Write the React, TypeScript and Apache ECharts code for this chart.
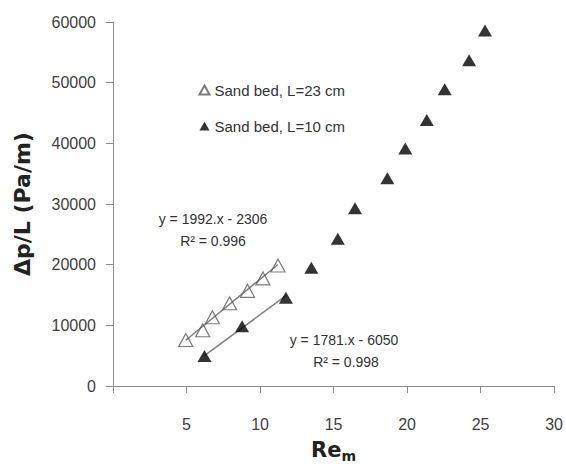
import React, { useEffect, useRef } from "react";
import * as echarts from "echarts";

const openName = "Sand bed, L=23 cm";
const filledName = "Sand bed, L=10 cm";

const openX = [4.95, 6.1, 6.76, 7.93, 9.15, 10.2, 11.22];
const openY = [7600, 9200, 11350, 13650, 15700, 17750, 19870];

const filledX = [6.22, 8.78, 11.76, 13.49, 15.29, 16.46, 18.66, 19.88, 21.34, 22.56, 24.22, 25.3];
const filledY = [4950, 9860, 14540, 19500, 24300, 29300, 34260, 39160, 43850, 48900, 53700, 58600];

// Trendline equations as printed on the chart
const openFit = { slope: 1992, intercept: -2306, r2: "0.996", xs: [4.95, 11.22] };
const filledFit = { slope: 1781, intercept: -6050, r2: "0.998", xs: [6.22, 11.76] };

const xTicks = [0, 5, 10, 15, 20, 25, 30];
const yTicks = [0, 10000, 20000, 30000, 40000, 50000, 60000];

const FONT = "'Liberation Sans', Arial, sans-serif";
const BOLD = "'DejaVu Sans', Verdana, sans-serif";

function fitLine(fit: { slope: number; intercept: number; xs: number[] }) {
  return fit.xs.map((x) => [x, fit.slope * x + fit.intercept]);
}
function eqText(fit: { slope: number; intercept: number }) {
  const sign = fit.intercept < 0 ? "-" : "+";
  return `y = ${fit.slope}.x ${sign} ${Math.abs(fit.intercept)}`;
}

export default function App() {
  const ref = useRef<HTMLDivElement>(null);
  useEffect(() => {
    if (!ref.current) return;
    const chart = echarts.init(ref.current, undefined, { renderer: "svg" });
    const textStyle = { fontFamily: FONT, fontSize: 14, fill: "#333" };
    chart.setOption({
      animation: false,
      backgroundColor: "#fff",
      grid: { left: 113, right: 9, top: 22, bottom: 74 },
      legend: {
        data: [openName, filledName],
        orient: "vertical",
        left: 193.5,
        top: 77.5,
        icon: "triangle",
        itemWidth: 10,
        itemHeight: 9,
        itemGap: 21,
        textStyle: { fontFamily: FONT, fontSize: 15, color: "#333" },
      },
      xAxis: {
        type: "value",
        min: xTicks[0],
        max: xTicks[xTicks.length - 1],
        interval: 5,
        name: "{b|Re}{s|m}",
        nameLocation: "middle",
        nameGap: 45,
        nameTextStyle: {
          rich: {
            b: { fontFamily: BOLD, fontWeight: "bold", fontSize: 21, color: "#222", lineHeight: 24 },
            s: { fontFamily: BOLD, fontWeight: "bold", fontSize: 14, color: "#222", lineHeight: 14, padding: [12, 0, 0, 0] },
          },
        },
        axisLine: { lineStyle: { color: "#8c8c8c", width: 1 } },
        axisTick: { show: true, inside: false, length: 7, lineStyle: { color: "#8c8c8c" } },
        axisLabel: {
          margin: 30,
          fontFamily: FONT,
          fontSize: 16,
          color: "#404040",
          formatter: (v: number) => (v === 0 ? "" : String(v)),
        },
        splitLine: { show: false },
      },
      yAxis: {
        type: "value",
        min: yTicks[0],
        max: yTicks[yTicks.length - 1],
        interval: 10000,
        name: "Δp/L (Pa/m)",
        nameLocation: "middle",
        nameGap: 80,
        nameRotate: 90,
        nameTextStyle: { fontFamily: BOLD, fontWeight: "bold", fontSize: 22, color: "#222" },
        axisLine: { show: true, lineStyle: { color: "#8c8c8c", width: 1 } },
        axisTick: { show: true, inside: false, length: 7, lineStyle: { color: "#8c8c8c" } },
        axisLabel: {
          margin: 17,
          fontFamily: FONT,
          fontSize: 16,
          color: "#404040",
          formatter: (v: number) => String(v),
        },
        splitLine: { show: false },
      },
      series: [
        {
          name: "fit23",
          type: "line",
          data: fitLine(openFit),
          symbol: "none",
          silent: true,
          z: 1,
          lineStyle: { color: "#7f7f7f", width: 1.5 },
        },
        {
          name: "fit10",
          type: "line",
          data: fitLine(filledFit),
          symbol: "none",
          silent: true,
          z: 1,
          lineStyle: { color: "#7f7f7f", width: 1.5 },
        },
        {
          name: openName,
          type: "scatter",
          data: openX.map((x, i) => [x, openY[i]]),
          symbol: "triangle",
          symbolSize: [14, 13],
          z: 3,
          itemStyle: { color: "rgba(255,255,255,0)", borderColor: "#5a5a5a", borderWidth: 1.2 },
        },
        {
          name: filledName,
          type: "scatter",
          data: filledX.map((x, i) => [x, filledY[i]]),
          symbol: "triangle",
          symbolSize: [14, 12],
          z: 3,
          itemStyle: { color: "#000" },
        },
      ],
      graphic: [
        { type: "text", x: 213, y: 219, style: { ...textStyle, text: eqText(openFit), align: "center", verticalAlign: "middle" } },
        { type: "text", x: 213, y: 241, style: { ...textStyle, text: `R² = ${openFit.r2}`, align: "center", verticalAlign: "middle" } },
        { type: "text", x: 344, y: 340, style: { ...textStyle, text: eqText(filledFit), align: "center", verticalAlign: "middle" } },
        { type: "text", x: 346, y: 362, style: { ...textStyle, text: `R² = ${filledFit.r2}`, align: "center", verticalAlign: "middle" } },
      ],
    });
    return () => chart.dispose();
  }, []);
  return <div ref={ref} style={{ position: "fixed", left: 0, top: 0, width: 566, height: 468 }} />;
}
